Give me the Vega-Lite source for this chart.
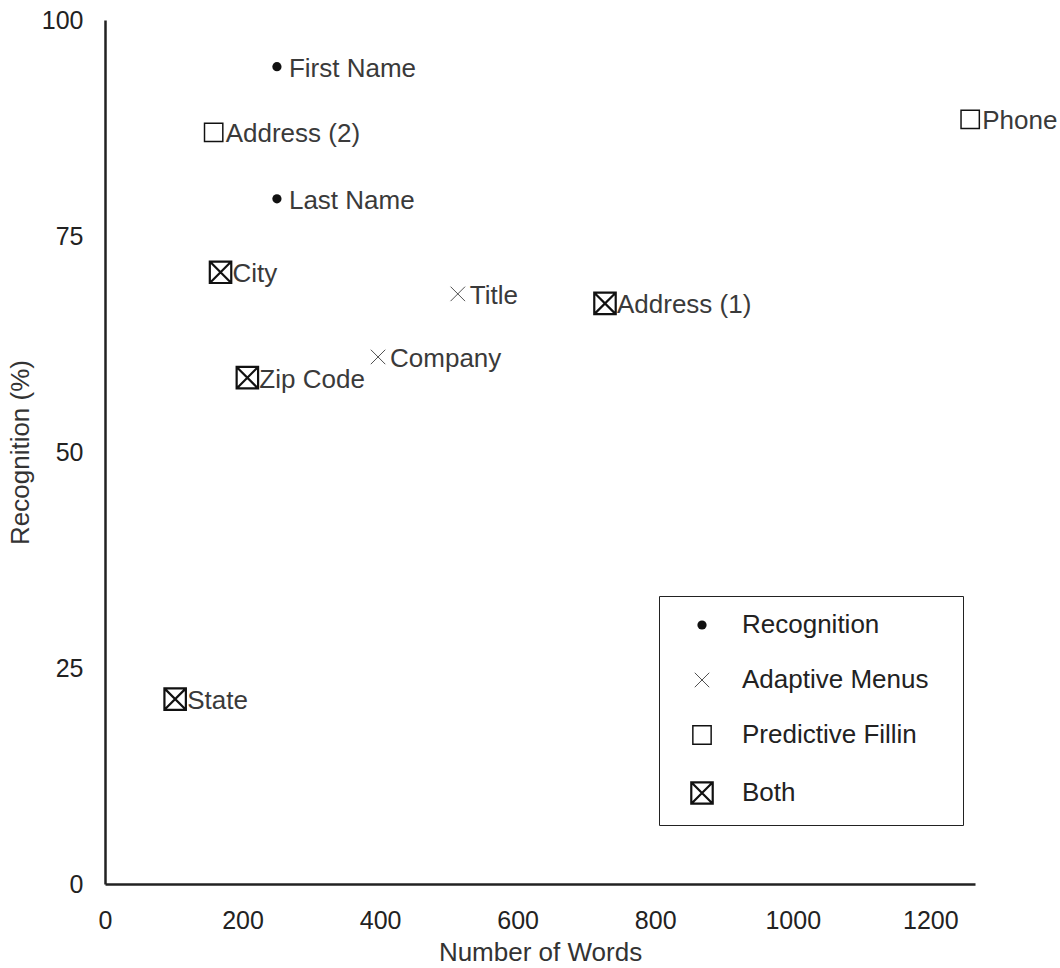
{
  "$schema": "https://vega.github.io/schema/vega-lite/v6.json",
  "autosize": "none",
  "width": 870,
  "height": 864,
  "padding": {"left": 105, "top": 20, "right": 85, "bottom": 84},
  "background": "white",
  "config": {
    "font": "Liberation Sans",
    "view": {"stroke": null},
    "axis": {
      "grid": false,
      "ticks": false,
      "domainColor": "#222222",
      "domainWidth": 2.5,
      "labelColor": "#222222",
      "labelFont": "Liberation Sans",
      "labelFontSize": 25,
      "titleColor": "#333333",
      "titleFont": "Liberation Sans",
      "titleFontSize": 26,
      "titleFontWeight": "normal"
    },
    "legend": {
      "orient": "none",
      "legendX": 554,
      "legendY": 576,
      "padding": 16,
      "strokeColor": "#222222",
      "labelFont": "Liberation Sans",
      "labelFontSize": 26,
      "labelColor": "#222222",
      "labelLimit": 400,
      "rowPadding": 29,
      "symbolOffset": 14,
      "labelOffset": 27,
      "titleOrient": "right",
      "titlePadding": 19,
      "titleFontSize": 26,
      "titleFont": "Liberation Sans"
    }
  },
  "data": {
    "values": [
      {"field": "First Name", "words": 250, "recognition": 94.6, "method": "Recognition"},
      {"field": "Last Name", "words": 250, "recognition": 79.3, "method": "Recognition"},
      {"field": "Address (2)", "words": 158, "recognition": 87.0, "method": "Predictive Fillin"},
      {"field": "Phone", "words": 1258, "recognition": 88.5, "method": "Predictive Fillin"},
      {"field": "City", "words": 168, "recognition": 70.8, "method": "Both"},
      {"field": "Title", "words": 513, "recognition": 68.3, "method": "Adaptive Menus"},
      {"field": "Address (1)", "words": 727, "recognition": 67.2, "method": "Both"},
      {"field": "Company", "words": 397, "recognition": 61.0, "method": "Adaptive Menus"},
      {"field": "Zip Code", "words": 207, "recognition": 58.6, "method": "Both"},
      {"field": "State", "words": 102, "recognition": 21.4, "method": "Both"}
    ]
  },
  "encoding": {
    "x": {
      "field": "words",
      "type": "quantitative",
      "title": "Number of Words",
      "scale": {"domain": [0, 1265], "nice": false, "zero": true},
      "axis": {"values": [0, 200, 400, 600, 800, 1000, 1200], "format": "d", "labelPadding": 24, "titlePadding": 6, "labelFlush": false}
    },
    "y": {
      "field": "recognition",
      "type": "quantitative",
      "title": "Recognition (%)",
      "scale": {"domain": [0, 100], "nice": false},
      "axis": {"values": [0, 25, 50, 75, 100], "format": "d", "labelPadding": 22, "titlePadding": 8, "labelFlush": false}
    }
  },
  "layer": [
    {
      "mark": {"type": "point", "filled": false, "color": "#111111", "opacity": 1},
      "encoding": {
        "shape": {
          "field": "method",
          "type": "nominal",
          "title": "\u00a0",
          "scale": {
            "domain": ["Recognition", "Adaptive Menus", "Predictive Fillin", "Both"],
            "range": ["circle", "M-1,-1L1,1M1,-1L-1,1", "square", "M-1,-1H1V1H-1Z M-1,-1L1,1 M1,-1L-1,1"]
          }
        },
        "size": {
          "field": "method",
          "type": "nominal",
          "title": "\u00a0",
          "scale": {
            "domain": ["Recognition", "Adaptive Menus", "Predictive Fillin", "Both"],
            "range": [85, 460, 250, 255]
          }
        },
        "fill": {
          "field": "method",
          "type": "nominal",
          "title": "\u00a0",
          "scale": {
            "domain": ["Recognition", "Adaptive Menus", "Predictive Fillin", "Both"],
            "range": ["#111111", "transparent", "transparent", "transparent"]
          }
        },
        "strokeWidth": {
          "field": "method",
          "type": "nominal",
          "title": "\u00a0",
          "scale": {
            "domain": ["Recognition", "Adaptive Menus", "Predictive Fillin", "Both"],
            "range": [0, 2.2, 1.8, 2.7]
          }
        }
      }
    },
    {
      "mark": {"type": "text", "align": "left", "baseline": "middle", "dx": 12, "dy": 2, "fontSize": 26, "font": "Liberation Sans", "color": "#3a3a3a"},
      "encoding": {
        "text": {"field": "field", "type": "nominal"}
      }
    }
  ]
}
